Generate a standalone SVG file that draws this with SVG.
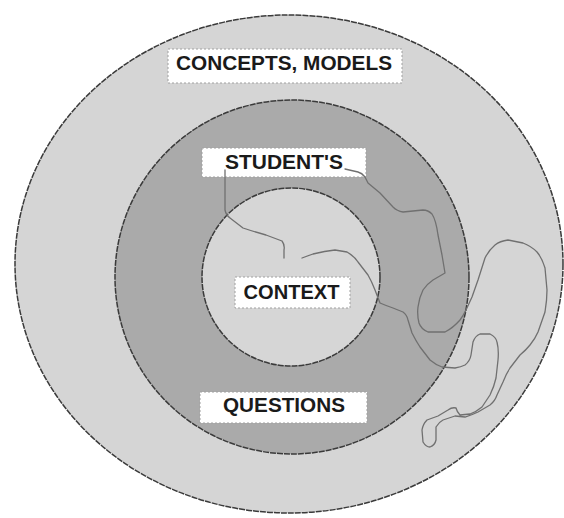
<svg xmlns="http://www.w3.org/2000/svg" width="564" height="518" viewBox="0 0 564 518">
  <style>
    .ring { stroke: #3a3a3a; stroke-width: 1.5; stroke-dasharray: 6 1; }
    .box { fill: #ffffff; stroke: #a0a0a0; stroke-width: 1; stroke-dasharray: 2 2; }
    .lbl { font-family: "Liberation Sans", Arial, Helvetica, sans-serif; font-weight: bold; font-size: 20px; fill: #1a1a1a; text-anchor: middle; }
    .trace { fill: none; stroke: #707070; stroke-width: 1.3; stroke-linejoin: round; stroke-linecap: round; }
  </style>
  <rect width="564" height="518" fill="#ffffff"/>

  <g id="concepts-models">
    <ellipse class="ring" cx="289" cy="264" rx="274" ry="249" fill="#d5d5d5"/>
  </g>
  <g id="students">
    <circle class="ring" cx="292" cy="277" r="177" fill="#aaaaaa"/>
  </g>
  <g id="context">
    <circle class="ring" cx="291" cy="277" r="89" fill="#d6d6d6"/>
  </g>

  <g id="label-concepts">
    <rect class="box" x="168" y="49" width="234" height="34"/>
    <text class="lbl" x="284" y="70" textLength="216" lengthAdjust="spacingAndGlyphs">CONCEPTS, MODELS</text>
  </g>
  <g id="label-students">
    <rect class="box" x="202" y="148" width="164" height="29"/>
    <text class="lbl" x="284" y="169" textLength="118" lengthAdjust="spacingAndGlyphs">STUDENT'S</text>
  </g>
  <g id="label-context">
    <rect class="box" x="235" y="277" width="115" height="31"/>
    <text class="lbl" x="291.5" y="299" textLength="96" lengthAdjust="spacingAndGlyphs">CONTEXT</text>
  </g>
  <g id="label-questions">
    <rect class="box" x="200" y="392" width="167" height="31"/>
    <text class="lbl" x="284" y="412" textLength="122" lengthAdjust="spacingAndGlyphs">QUESTIONS</text>
  </g>

  <g id="connectors">
    <!-- short trace entering the inner circle from the label -->
    <path class="trace" d="M225,170 L225,210 Q226,215 230,218 L243,228 Q255,232 266,235 L282,241 Q285,245 284,250 L284,258"/>
    <!-- long wandering trace -->
    <path class="trace" d="M302,258 L313,254 Q325,251 335,250 L347,252 Q354,256 358,262 L368,275 Q372,282 375,290 L380,303 Q387,306 393,308 L403,312 Q407,315 408,320 L412,333 Q416,341 420,347 L430,360 Q436,365 442,367 L455,368 Q461,367 465,365 Q470,361 471,355 L473,342 Q475,336 480,334 L490,334 Q496,337 497,342 Q499,350 498,360 L496,378 Q494,387 490,395 L482,407 Q476,412 470,414 L460,415 Q457,412 456,408 Q452,407 448,410 L438,416 L427,420 Q423,424 422,430 L423,442 Q426,447 430,447 Q435,445 436,440 L436,427 Q439,422 443,420 L455,416 L465,417 Q472,415 478,412 L490,405 Q495,401 497,395 L503,382 Q506,374 510,368 L520,355 Q526,350 530,345 Q535,339 538,332 L545,312 Q547,300 547,290 L545,268 Q542,258 537,252 Q531,246 523,243 L508,240 Q500,241 495,245 Q489,250 485,258 L478,280 L472,297 L466,310 Q463,316 460,320 Q453,328 445,332 L428,332 Q421,329 419,323 Q417,315 418,307 Q419,298 423,290 Q427,284 433,280 L445,273 L442,255 L438,235 Q436,220 432,214 Q428,210 423,210 L403,212 Q397,211 393,207 L380,193 L368,183 Q366,179 365,177 Q362,173 358,172 L345,169"/>
  </g>
</svg>
